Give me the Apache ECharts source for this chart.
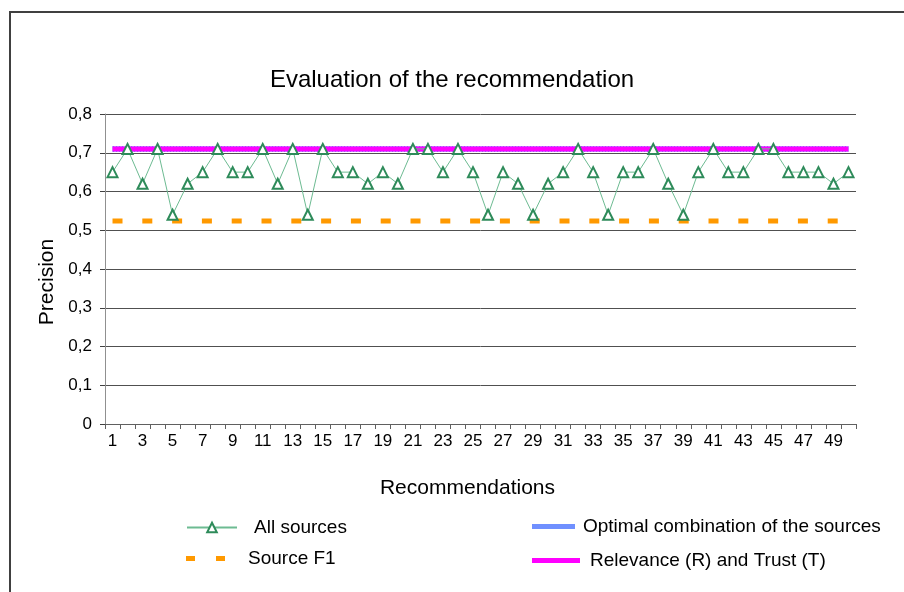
<!DOCTYPE html>
<html>
<head>
<meta charset="utf-8">
<script src="https://cdn.jsdelivr.net/npm/echarts@6/dist/echarts.min.js"></script>
<style>
  html, body { margin: 0; padding: 0; background: #ffffff; }
  #chart { width: 904px; height: 592px; }
</style>
</head>
<body>
<div id="chart"></div>
<script>
// Recommendation index (x axis categories)
const categories = ['1','2','3','4','5','6','7','8','9','10','11','12','13','14','15','16','17','18','19','20',
  '21','22','23','24','25','26','27','28','29','30','31','32','33','34','35','36','37','38','39','40',
  '41','42','43','44','45','46','47','48','49','50'];

// Precision tick labels (decimal comma)
const yTickLabels = ['0', '0,1', '0,2', '0,3', '0,4', '0,5', '0,6', '0,7', '0,8'];

// Precision per recommendation
const allSources = [0.65, 0.71, 0.62, 0.71, 0.54, 0.62, 0.65, 0.71, 0.65, 0.65,
  0.71, 0.62, 0.71, 0.54, 0.71, 0.65, 0.65, 0.62, 0.65, 0.62,
  0.71, 0.71, 0.65, 0.71, 0.65, 0.54, 0.65, 0.62, 0.54, 0.62,
  0.65, 0.71, 0.65, 0.54, 0.65, 0.65, 0.71, 0.62, 0.54, 0.65,
  0.71, 0.65, 0.65, 0.71, 0.71, 0.65, 0.65, 0.65, 0.62, 0.65];

const sourceF1 = [0.524, 0.524, 0.524, 0.524, 0.524, 0.524, 0.524, 0.524, 0.524, 0.524,
  0.524, 0.524, 0.524, 0.524, 0.524, 0.524, 0.524, 0.524, 0.524, 0.524,
  0.524, 0.524, 0.524, 0.524, 0.524, 0.524, 0.524, 0.524, 0.524, 0.524,
  0.524, 0.524, 0.524, 0.524, 0.524, 0.524, 0.524, 0.524, 0.524, 0.524,
  0.524, 0.524, 0.524, 0.524, 0.524, 0.524, 0.524, 0.524, 0.524, 0.524];

const optimalCombination = [0.71, 0.71, 0.71, 0.71, 0.71, 0.71, 0.71, 0.71, 0.71, 0.71,
  0.71, 0.71, 0.71, 0.71, 0.71, 0.71, 0.71, 0.71, 0.71, 0.71,
  0.71, 0.71, 0.71, 0.71, 0.71, 0.71, 0.71, 0.71, 0.71, 0.71,
  0.71, 0.71, 0.71, 0.71, 0.71, 0.71, 0.71, 0.71, 0.71, 0.71,
  0.71, 0.71, 0.71, 0.71, 0.71, 0.71, 0.71, 0.71, 0.71, 0.71];

const relevanceTrust = [0.71, 0.71, 0.71, 0.71, 0.71, 0.71, 0.71, 0.71, 0.71, 0.71,
  0.71, 0.71, 0.71, 0.71, 0.71, 0.71, 0.71, 0.71, 0.71, 0.71,
  0.71, 0.71, 0.71, 0.71, 0.71, 0.71, 0.71, 0.71, 0.71, 0.71,
  0.71, 0.71, 0.71, 0.71, 0.71, 0.71, 0.71, 0.71, 0.71, 0.71,
  0.71, 0.71, 0.71, 0.71, 0.71, 0.71, 0.71, 0.71, 0.71, 0.71];

const FONT = 'Liberation Sans, Arial, sans-serif';
const chart = echarts.init(document.getElementById('chart'), null, { renderer: 'canvas' });

const legendText = { fontFamily: FONT, fontSize: 19, color: '#000' };

chart.setOption({
  animation: false,
  backgroundColor: '#ffffff',
  title: {
    text: 'Evaluation of the recommendation',
    left: 'center',
    top: 63,
    textStyle: { fontFamily: FONT, fontSize: 24, fontWeight: 'normal', color: '#000' }
  },
  // outer frame of the chart area
  graphic: [{
    type: 'polyline',
    shape: { points: [[10, 600], [10, 12], [910, 12]] },
    style: { stroke: '#404040', lineWidth: 2, fill: null },
    silent: true
  }],
  legend: [
    {
      data: ['All sources'], left: 186, top: 518, padding: 0,
      itemWidth: 50, itemHeight: 12,
      textStyle: Object.assign({ padding: [0, 0, 10, 12] }, legendText)
    },
    {
      data: [{ name: 'Source F1', icon: 'path://M0,0H9V5H0Z M30,0H39V5H30Z' }],
      left: 186, top: 549, padding: 0,
      itemWidth: 39, itemHeight: 5,
      textStyle: Object.assign({ padding: [0, 0, 2, 18] }, legendText)
    },
    {
      data: [{ name: 'Optimal combination of the sources', icon: 'rect' }],
      left: 532, top: 517, padding: 0,
      itemWidth: 43, itemHeight: 5,
      textStyle: Object.assign({ padding: [0, 0, 4, 3] }, legendText)
    },
    {
      data: [{ name: 'Relevance (R) and Trust (T)', icon: 'rect' }],
      left: 532, top: 551, padding: 0,
      itemWidth: 48, itemHeight: 5,
      textStyle: Object.assign({ padding: [0, 0, 0, 5] }, legendText)
    }
  ],
  grid: { left: 105, right: 48, top: 114, bottom: 168 },
  xAxis: {
    type: 'category',
    data: categories,
    boundaryGap: true,
    name: 'Recommendations',
    nameLocation: 'middle',
    nameGap: 54,
    nameTextStyle: { fontFamily: FONT, fontSize: 21, color: '#000', padding: [0, 26, 0, 0] },
    axisLine: { lineStyle: { color: '#606060', width: 1 } },
    axisTick: { show: true, interval: 0, length: 5, lineStyle: { color: '#606060' } },
    axisLabel: { interval: 1, margin: 9, fontFamily: FONT, fontSize: 17, color: '#000' },
    splitLine: { show: false }
  },
  yAxis: {
    type: 'value',
    min: 0,
    max: 0.8,
    interval: 0.1,
    name: 'Precision',
    nameLocation: 'middle',
    nameGap: 44,
    nameTextStyle: { fontFamily: FONT, fontSize: 21, color: '#000', padding: [0, 26, 0, 0] },
    axisLine: { show: true, lineStyle: { color: '#909090', width: 1 } },
    axisTick: { show: true, length: 5, lineStyle: { color: '#404040' } },
    axisLabel: {
      margin: 13,
      fontFamily: FONT, fontSize: 17, color: '#000',
      formatter: function (v) { return yTickLabels[Math.round(v * 10)]; }
    },
    splitLine: { show: true, lineStyle: { color: '#505050', width: 1 } }
  },
  series: [
    {
      name: 'All sources',
      type: 'line',
      data: allSources,
      symbol: 'triangle',
      symbolSize: 10,
      z: 5,
      lineStyle: { color: '#6dbb92', width: 1 },
      itemStyle: { color: '#ffffff', borderColor: '#2e8b5a', borderWidth: 2 }
    },
    {
      name: 'Source F1',
      type: 'line',
      data: sourceF1,
      symbol: 'none',
      z: 3,
      lineStyle: { color: '#ff9900', width: 5, type: [10, 19.8], cap: 'butt' },
      itemStyle: { color: '#ff9900' }
    },
    {
      name: 'Optimal combination of the sources',
      type: 'line',
      data: optimalCombination,
      symbol: 'none',
      z: 2,
      lineStyle: { color: '#6680ff', width: 6, type: [2, 1] },
      itemStyle: { color: '#7090ff' }
    },
    {
      name: 'Relevance (R) and Trust (T)',
      type: 'line',
      data: relevanceTrust,
      symbol: 'none',
      z: 4,
      lineStyle: { color: '#ff00ff', width: 5 },
      itemStyle: { color: '#ff00ff' }
    }
  ]
});
</script>
</body>
</html>
